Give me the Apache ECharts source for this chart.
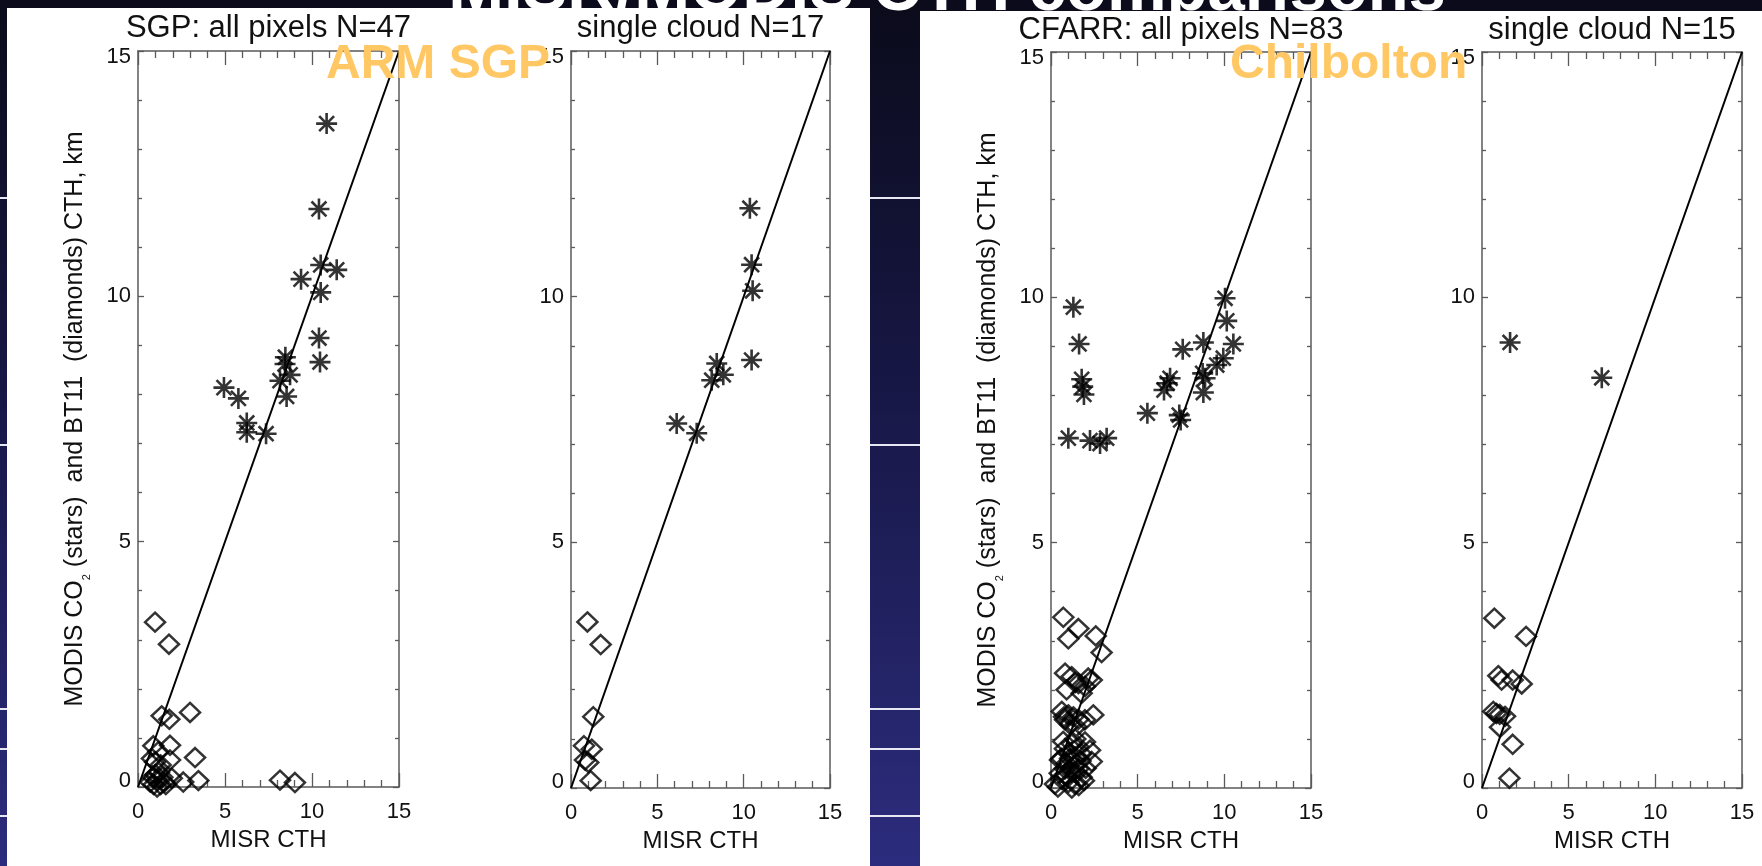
<!DOCTYPE html>
<html>
<head>
<meta charset="utf-8">
<title>MISR/MODIS CTH comparisons</title>
<script src="https://cdn.jsdelivr.net/npm/echarts@6/dist/echarts.min.js"></script>
<style>
  html, body { margin: 0; padding: 0; background: #0c0c1f; }
  #chart { width: 1762px; height: 866px; }
</style>
</head>
<body>
<div id="chart"></div>
<script>
// ---- data: [MISR CTH, MODIS CTH] in km ----
// SGP, all pixels: CO2-slicing heights (stars) and BT11 heights (diamonds)
const sgpAllStars = [
  [10.84, 13.52], [10.40, 11.78], [10.50, 10.64], [11.42, 10.54], [9.37, 10.35],
  [10.50, 10.08], [10.40, 9.15], [10.46, 8.66], [8.47, 8.76], [8.45, 8.62],
  [8.74, 8.40], [8.16, 8.28], [8.54, 7.96], [4.94, 8.14], [5.77, 7.92],
  [6.25, 7.42], [6.25, 7.23], [7.36, 7.20]
];
const sgpAllDiamonds = [
  [0.98, 3.36], [1.78, 2.91], [1.36, 1.45], [1.80, 1.38], [2.99, 1.52],
  [0.88, 0.84], [1.84, 0.85], [1.17, 0.72], [0.98, 0.51], [1.84, 0.55],
  [3.28, 0.60], [0.80, 0.58], [1.30, 0.45], [1.94, 0.18], [2.60, 0.10],
  [3.47, 0.13], [8.16, 0.14], [9.02, 0.09], [0.70, 0.10], [0.90, 0.05],
  [1.10, 0.15], [1.30, 0.05], [1.50, 0.10], [1.00, 0.25], [1.20, 0.30],
  [0.85, 0.20], [1.40, 0.20], [1.60, 0.05], [1.10, 0.00]
];
// SGP, single cloud layer
const sgpSingleStars = [
  [10.36, 11.80], [10.46, 10.65], [10.52, 10.12], [10.46, 8.71], [8.44, 8.64],
  [8.82, 8.41], [8.15, 8.30], [6.12, 7.42], [7.28, 7.22]
];
const sgpSingleDiamonds = [
  [0.95, 3.38], [1.72, 2.92], [1.29, 1.45], [0.75, 0.86], [1.20, 0.79],
  [0.81, 0.57], [1.00, 0.52], [1.14, 0.15]
];
// CFARR (Chilbolton), all pixels
const cfarrAllStars = [
  [1.29, 9.80], [1.62, 9.05], [1.77, 8.33], [1.83, 8.18], [1.90, 8.02],
  [1.00, 7.13], [2.25, 7.08], [2.83, 7.02], [3.21, 7.13], [5.56, 7.64],
  [6.52, 8.11], [6.70, 8.25], [6.87, 8.35], [7.40, 7.60], [7.48, 7.50],
  [7.60, 8.94], [8.79, 9.08], [8.75, 8.45], [8.89, 8.35], [8.79, 8.06],
  [9.56, 8.62], [9.94, 8.76], [10.04, 9.98], [10.14, 9.52], [10.52, 9.05]
];
const cfarrAllDiamonds = [
  [0.71, 3.48], [1.58, 3.25], [1.00, 3.04], [2.58, 3.10], [2.92, 2.76],
  [0.81, 2.34], [1.19, 2.27], [0.90, 2.00], [1.58, 2.13], [2.15, 2.24],
  [2.35, 2.20], [1.77, 1.93], [1.96, 2.07], [1.40, 2.15],
  [0.62, 1.56], [1.00, 1.49], [1.29, 1.45], [0.81, 1.39], [1.58, 1.40],
  [2.44, 1.49], [1.96, 1.39], [1.10, 1.30], [1.45, 1.25], [0.75, 1.45],
  [0.52, 0.57], [1.00, 0.71], [1.58, 0.84], [1.96, 0.94], [2.25, 0.77],
  [2.35, 0.54], [1.38, 0.63], [1.20, 0.90], [1.75, 0.70], [0.80, 0.80],
  [1.50, 0.50], [0.81, 0.39], [1.19, 0.33], [1.58, 0.39], [1.77, 0.22],
  [0.62, 0.18], [1.00, 0.11], [1.38, 0.08], [0.23, 0.08], [1.20, 0.00],
  [0.90, 0.25], [1.60, 0.05], [0.60, 0.60], [0.90, 0.50], [1.30, 0.45],
  [1.70, 0.55], [2.00, 0.40], [0.70, 0.95], [1.40, 1.00], [1.10, 0.60],
  [0.50, 0.30], [1.90, 0.15], [0.40, 0.02], [1.45, 0.30]
];
// CFARR (Chilbolton), single cloud layer
const cfarrSingleStars = [[1.62, 9.08], [6.91, 8.36]];
const cfarrSingleDiamonds = [
  [0.71, 3.46], [2.54, 3.09], [0.94, 2.29], [1.13, 2.20], [1.77, 2.20],
  [2.29, 2.12], [0.65, 1.56], [0.83, 1.52], [1.02, 1.50], [1.33, 1.46],
  [1.04, 1.24], [1.77, 0.89], [1.58, 0.20]
];
// 1:1 reference line
const oneToOne = [[0, 0], [15, 15]];

// axis ranges and tick step (km)
const axisMin = 0, axisMax = 15, axisStep = 5;

const panelTitles = [
  'SGP: all pixels N=47', 'single cloud N=17',
  'CFARR: all pixels N=83', 'single cloud N=15'
];
const siteLabels = ['ARM SGP', 'Chilbolton'];
const slideTitle = 'MISR/MODIS CTH comparisons';
const xName = 'MISR CTH';
const yName = 'MODIS CO{sub|2} (stars)  and BT11  (diamonds) CTH, km';

const panels = [
  { stars: sgpAllStars, diamonds: sgpAllDiamonds, yLabel: true },
  { stars: sgpSingleStars, diamonds: sgpSingleDiamonds, yLabel: false },
  { stars: cfarrAllStars, diamonds: cfarrAllDiamonds, yLabel: true },
  { stars: cfarrSingleStars, diamonds: cfarrSingleDiamonds, yLabel: false }
];

// ---- layout ----
const FONT = '"Liberation Sans", Arial, Helvetica, sans-serif';
const grids = [
  { left: 138, top: 51, width: 261, height: 736 },
  { left: 571, top: 51, width: 259, height: 737 },
  { left: 1051, top: 52, width: 260, height: 736 },
  { left: 1482, top: 52, width: 260, height: 736 }
];
const frameColor = '#5a5a5a';
const starPath = 'path://M10,0L10,20M0,10L20,10M2.9,2.9L17.1,17.1M2.9,17.1L17.1,2.9';
const tickFont = { fontSize: 22, color: '#111', fontFamily: FONT };

// y labels at the frame ends are nudged inside the plot box
function yTickLabel(v) {
  if (v === axisMax) return '{hi|' + v + '}';
  if (v === axisMin) return '{lo|' + v + '}';
  return String(v);
}

const xAxis = [], yAxis = [], series = [];
grids.forEach(function (g, i) {
  const p = panels[i];
  const common = {
    gridIndex: i, type: 'value', min: axisMin, max: axisMax, interval: axisStep,
    splitLine: { show: false }, minorSplitLine: { show: false },
    axisLine: { show: true, onZero: false, lineStyle: { color: frameColor, width: 1.5 } }
  };
  // bottom axis with labels
  xAxis.push(Object.assign({}, common, {
    position: 'bottom',
    axisTick: { show: true, inside: true, length: 14, lineStyle: { color: frameColor, width: 1.3 } },
    minorTick: { show: true, splitNumber: 5, length: 7, lineStyle: { color: frameColor, width: 1.3 } },
    axisLabel: Object.assign({ show: true, margin: 14 }, tickFont),
    name: xName, nameLocation: 'middle', nameGap: 41,
    nameTextStyle: { fontSize: 24, color: '#111', fontFamily: FONT }
  }));
  // top mirror axis
  xAxis.push(Object.assign({}, common, {
    position: 'top',
    axisTick: { show: true, inside: true, length: 14, lineStyle: { color: frameColor, width: 1.3 } },
    minorTick: { show: true, splitNumber: 5, length: 7, lineStyle: { color: frameColor, width: 1.3 } },
    axisLabel: { show: false }
  }));
  // left axis with labels
  const left = Object.assign({}, common, {
    position: 'left',
    axisTick: { show: true, inside: true, length: 6, lineStyle: { color: frameColor, width: 1.3 } },
    minorTick: { show: true, splitNumber: 5, length: 4, lineStyle: { color: frameColor, width: 1.3 } },
    axisLabel: Object.assign({
      show: true, margin: 7, formatter: yTickLabel,
      rich: {
        hi: Object.assign({ padding: [12, 0, 0, 0] }, tickFont),
        lo: Object.assign({ padding: [0, 0, 12, 0] }, tickFont)
      }
    }, tickFont)
  });
  if (p.yLabel) {
    Object.assign(left, {
      name: yName, nameLocation: 'middle', nameGap: 50,
      nameTextStyle: {
        fontSize: 25, color: '#111', fontFamily: FONT,
        rich: { sub: { fontSize: 11, color: '#111', fontFamily: FONT, verticalAlign: 'bottom', padding: [0, 0, -4, 0] } }
      }
    });
  }
  yAxis.push(left);
  // right mirror axis
  yAxis.push(Object.assign({}, common, {
    position: 'right',
    axisTick: { show: true, inside: true, length: 6, lineStyle: { color: frameColor, width: 1.3 } },
    minorTick: { show: true, splitNumber: 5, length: 4, lineStyle: { color: frameColor, width: 1.3 } },
    axisLabel: { show: false }
  }));

  const xi = i * 2, yi = i * 2;
  series.push({
    type: 'line', xAxisIndex: xi, yAxisIndex: yi, data: oneToOne,
    symbol: 'none', silent: true, z: 3,
    lineStyle: { color: '#000', width: 2 }
  });
  series.push({
    type: 'scatter', xAxisIndex: xi, yAxisIndex: yi, data: p.diamonds,
    symbol: 'diamond', symbolSize: [20, 19], z: 4,
    itemStyle: { color: 'rgba(0,0,0,0)', borderColor: '#000', borderWidth: 2.5 }
  });
  series.push({
    type: 'scatter', xAxisIndex: xi, yAxisIndex: yi, data: p.stars,
    symbol: starPath, symbolSize: [21, 21], z: 5,
    itemStyle: { color: 'rgba(0,0,0,0)', borderColor: '#000', borderWidth: 2.6 }
  });
});

// ---- slide background, white figure panels and titles ----
const graphic = [
  { type: 'rect', z: -30, silent: true, shape: { x: 0, y: 0, width: 1762, height: 866 },
    style: { fill: { type: 'linear', x: 0, y: 0, x2: 0, y2: 1,
      colorStops: [{ offset: 0, color: '#0b0b1b' }, { offset: 0.45, color: '#171746' }, { offset: 1, color: '#2c2c7e' }] } } }
];
[197, 444, 708, 748, 815].forEach(function (y) {
  graphic.push({ type: 'rect', z: -29, silent: true, shape: { x: 0, y: y, width: 1762, height: 2 },
    style: { fill: '#e8e8f4' } });
});
graphic.push({ type: 'text', z: -28, silent: true, x: 947, y: 25,
  style: { text: slideTitle, fill: '#ffffff', font: 'bold 67px ' + FONT, textAlign: 'center', textVerticalAlign: 'bottom' } });
graphic.push({ type: 'rect', z: -20, silent: true, shape: { x: 7, y: 8, width: 863, height: 858 }, style: { fill: '#ffffff' } });
graphic.push({ type: 'rect', z: -20, silent: true, shape: { x: 920, y: 11, width: 842, height: 855 }, style: { fill: '#ffffff' } });

grids.forEach(function (g, i) {
  const baseline = i < 2 ? 39 : 41;
  graphic.push({ type: 'text', z: 10, silent: true, x: g.left + g.width / 2, y: baseline - 11,
    style: { text: panelTitles[i], fill: '#111', font: '31px ' + FONT, textAlign: 'center', textVerticalAlign: 'middle' } });
});
graphic.push({ type: 'text', z: 100, silent: true, x: 326, y: 65,
  style: { text: siteLabels[0], fill: '#ffc864', font: 'bold 48px ' + FONT, textAlign: 'left', textVerticalAlign: 'middle' } });
graphic.push({ type: 'text', z: 100, silent: true, x: 1230, y: 65,
  style: { text: siteLabels[1], fill: '#ffc864', font: 'bold 48px ' + FONT, textAlign: 'left', textVerticalAlign: 'middle' } });

const chart = echarts.init(document.getElementById('chart'), null, { renderer: 'canvas', width: 1762, height: 866 });
chart.setOption({
  animation: false,
  backgroundColor: '#0c0c1f',
  textStyle: { fontFamily: FONT },
  grid: grids.map(function (g) { return Object.assign({ containLabel: false }, g); }),
  xAxis: xAxis,
  yAxis: yAxis,
  series: series,
  graphic: graphic
});
</script>
</body>
</html>
